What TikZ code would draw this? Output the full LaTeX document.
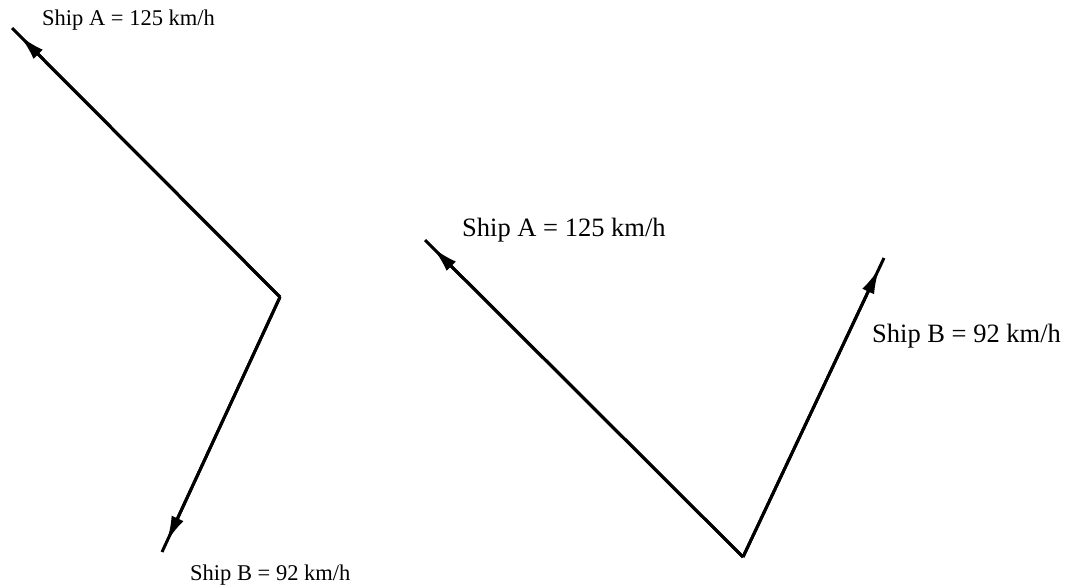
\documentclass[tikz,border=0pt]{standalone}
\usepackage{fontspec}
\setmainfont{Liberation Serif}
\usetikzlibrary{arrows.meta}
\tikzset{
  vecline/.style={line width=3pt, black},
  vechead/.style={line width=3pt, black, shorten >=11pt, -{Latex[length=26pt,width=13pt]}},
  lblsmall/.style={anchor=base west, inner sep=0pt, font=\fontsize{22.5}{26}\selectfont},
  lblbig/.style={anchor=base west, inner sep=0pt, font=\fontsize{26.5}{30}\selectfont}
}
\begin{document}
\begin{tikzpicture}[x=1pt,y=-1pt]
\useasboundingbox (0,0) rectangle (1065,587);
% left diagram
\coordinate (lv) at (280,297);
\coordinate (la) at (12,28);
\coordinate (lb) at (162,552);
\draw[vecline] (lv) -- (la);
\draw[vechead] (lv) -- (la);
\draw[vecline] (lv) -- (lb);
\draw[vechead] (lv) -- (lb);
\node[lblsmall] (lta) at (42,25) {Ship A = 125 km/h};
\node[lblsmall] (ltb) at (190,580) {Ship B = 92 km/h};
% right diagram
\coordinate (rv) at (743,557);
\coordinate (ra) at (425,240);
\coordinate (rb) at (884,258);
\draw[vecline] (rv) -- (ra);
\draw[vechead] (rv) -- (ra);
\draw[vecline] (rv) -- (rb);
\draw[vechead] (rv) -- (rb);
\node[lblbig] (rta) at (462,236) {Ship A = 125 km/h};
\node[lblbig] (rtb) at (872,342) {Ship B = 92 km/h};
\end{tikzpicture}
\end{document}
